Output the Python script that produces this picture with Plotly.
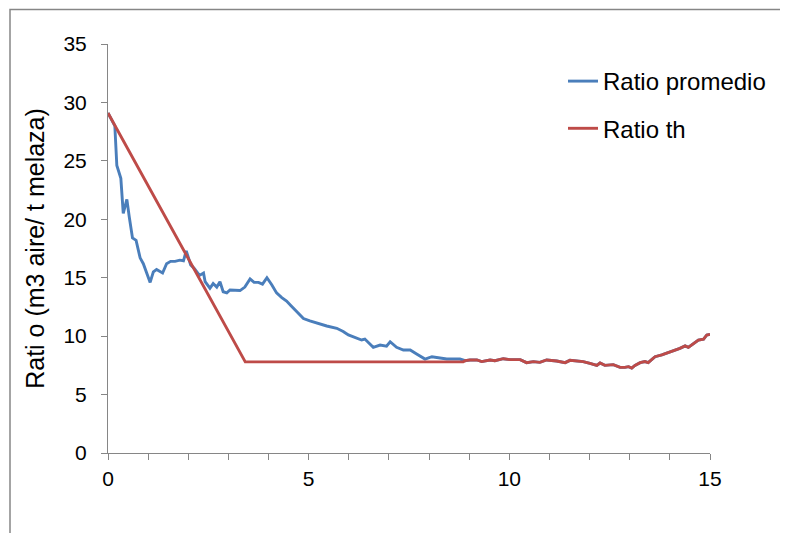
import plotly.graph_objects as go

# --- data ---
t_head_prom = [0.0, 0.17, 0.22, 0.32, 0.38, 0.47, 0.53, 0.61, 0.70, 0.80, 0.88, 1.05, 1.13, 1.21,
               1.36, 1.46, 1.56, 1.67, 1.79, 1.88, 1.95, 2.06, 2.15, 2.28, 2.38, 2.42, 2.54, 2.62,
               2.71, 2.79, 2.87, 2.96, 3.04, 3.16, 3.29, 3.41, 3.54, 3.64, 3.75, 3.85, 3.96, 4.08,
               4.20, 4.33, 4.45, 4.56, 4.70, 4.87, 5.03, 5.20, 5.45, 5.70, 5.86, 5.99, 6.20, 6.32,
               6.40, 6.61, 6.78, 6.94, 7.03, 7.19, 7.36, 7.53, 7.69, 7.90, 8.07, 8.27, 8.44, 8.77]
r_head_prom = [29.1, 28.0, 24.6, 23.5, 20.5, 21.7, 20.2, 18.4, 18.2, 16.7, 16.2, 14.6, 15.5, 15.7,
               15.4, 16.2, 16.4, 16.4, 16.5, 16.45, 17.3, 16.1, 15.8, 15.2, 15.4, 14.66, 14.1, 14.5,
               14.2, 14.66, 13.8, 13.7, 13.95, 13.9, 13.9, 14.2, 14.9, 14.6, 14.6, 14.45, 15.0, 14.4,
               13.7, 13.3, 13.0, 12.6, 12.1, 11.5, 11.3, 11.1, 10.87, 10.67, 10.4, 10.1, 9.8, 9.67,
               9.75, 9.04, 9.24, 9.15, 9.52, 9.04, 8.81, 8.81, 8.47, 8.04, 8.24, 8.16, 8.04, 8.04]

t_head_th = [0.0, 3.42, 8.85]
r_head_th = [29.1, 7.8, 7.8]

# shared measured tail (both series coincide after ~8.9)
t_tail = [8.90, 9.02, 9.19, 9.31, 9.44, 9.52, 9.64, 9.85, 10.02, 10.27, 10.43, 10.60, 10.76,
          10.93, 11.18, 11.39, 11.51, 11.84, 12.01, 12.18, 12.26, 12.38, 12.59, 12.76, 12.88,
          12.97, 13.05, 13.13, 13.26, 13.38, 13.46, 13.63, 13.80, 13.96, 14.13, 14.25, 14.38,
          14.46, 14.59, 14.71, 14.84, 14.92, 15.0]
r_tail = [7.9, 7.96, 7.96, 7.82, 7.87, 7.96, 7.9, 8.07, 7.99, 7.99, 7.73, 7.82, 7.76,
          7.96, 7.87, 7.73, 7.93, 7.82, 7.67, 7.5, 7.7, 7.5, 7.56, 7.33, 7.33,
          7.39, 7.27, 7.5, 7.73, 7.82, 7.73, 8.24, 8.39, 8.62, 8.81, 8.96, 9.16,
          9.04, 9.33, 9.67, 9.75, 10.1, 10.15]

series_names = ["Ratio promedio", "Ratio th"]
y_title = "Rati o (m3 aire/ t melaza)"
x_tickvals = [0, 5, 10, 15]
y_tickvals = [0, 5, 10, 15, 20, 25, 30, 35]

BLUE = "#4A7EBB"
RED = "#BE4B48"
GRID = "#868686"
FONT = "Liberation Sans, Arial, sans-serif"

OFF = 8  # page body margin
W, H = 788 - OFF, 533 - OFF
L, R, T, B = 108 - OFF, 78, 44 - OFF, 80
pw, ph = W - L - R, H - T - B

def px2paper_x(p):  # p = screen pixel
    return (p - OFF - L) / pw

def px2paper_y(p):
    return (H - B - (p - OFF)) / ph

fig = go.Figure()
fig.add_trace(go.Scatter(
    x=t_head_prom + t_tail, y=r_head_prom + r_tail, mode="lines",
    name=series_names[0], legendgroup="a",
    line=dict(color=BLUE, width=2.9)))
fig.add_trace(go.Scatter(
    x=t_head_th + t_tail, y=r_head_th + r_tail, mode="lines",
    name=series_names[1], legendgroup="b",
    line=dict(color=RED, width=2.9)))

fig.update_layout(
    width=W, height=H,
    margin=dict(l=L, r=R, t=T, b=B, autoexpand=False),
    paper_bgcolor="white", plot_bgcolor="white",
    font=dict(family=FONT, size=21, color="black"),
    showlegend=True,
    legend=dict(x=px2paper_x(563), y=px2paper_y(59), xanchor="left", yanchor="top",
                traceorder="grouped", tracegroupgap=13,
                font=dict(size=24), bgcolor="rgba(0,0,0,0)", itemwidth=30),
    xaxis=dict(range=[0, 15], tickvals=x_tickvals, ticks="outside", ticklen=6,
               tickcolor=GRID, showline=True, linecolor=GRID, linewidth=1,
               showgrid=False, zeroline=False, ticklabelstandoff=1, automargin=False,
               minor=dict(dtick=1, ticks="outside", ticklen=6, tickcolor=GRID, showgrid=False)),
    yaxis=dict(range=[0, 35], tickvals=y_tickvals, ticks="outside", ticklen=6,
               tickcolor=GRID, showline=True, linecolor=GRID, linewidth=1,
               showgrid=False, zeroline=False, ticklabelstandoff=10, automargin=False,
               title=dict(text=y_title, font=dict(size=25), standoff=11)),
    shapes=[dict(type="rect", xref="paper", yref="paper",
                 x0=px2paper_x(10), x1=px2paper_x(830),
                 y0=px2paper_y(570), y1=px2paper_y(9.5),
                 line=dict(color=GRID, width=1.5), fillcolor="rgba(0,0,0,0)", layer="below")],
)

fig.write_html("out.html")
